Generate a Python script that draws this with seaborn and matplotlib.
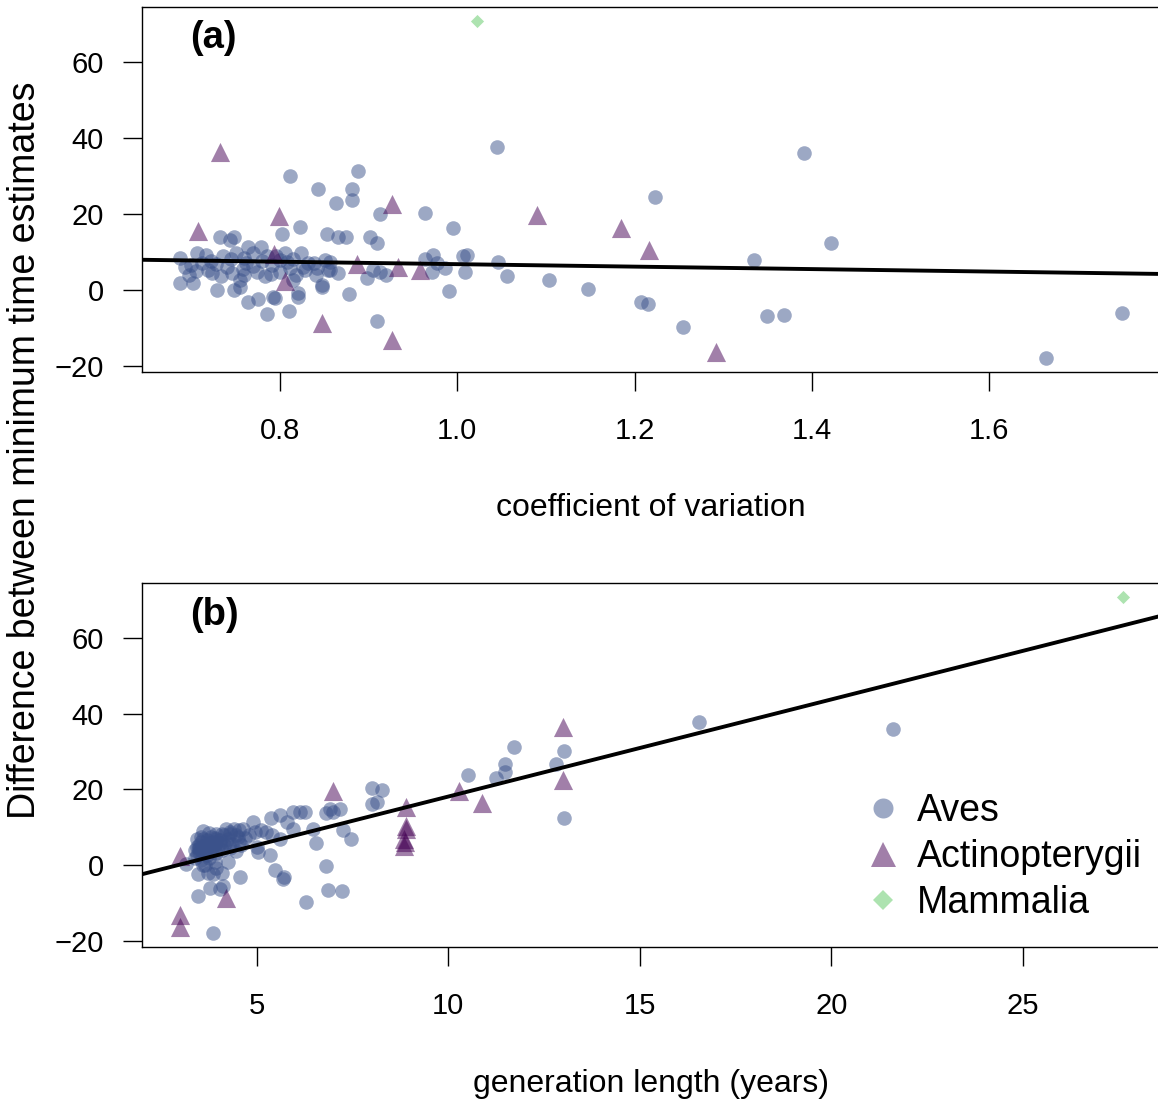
import pandas as pd
import matplotlib.pyplot as plt
from matplotlib.lines import Line2D
import seaborn as sns

# difference between minimum time estimates, per species
aves_diff = [37.7, 36.0, 31.3, 30.1, 26.7, 26.7, 24.6, 23.7, 22.9, 20.3,
             19.9, 16.6, 16.2, 14.7, 14.7, 14.0, 13.9, 13.9, 13.9, 13.8,
             13.2, 12.3, 12.3, 11.4, 11.4, 9.6, 9.6, 9.6, 9.6, 9.6,
             9.2, 9.2, 9.2, 8.8, 8.8, 8.8, 8.3, 8.1, 7.9, 7.9,
             7.4, 7.2, 7.0, 7.0, 7.0, 7.0, 7.0, 6.6, 6.1, 5.7,
             5.7, 5.3, 5.3, 5.3, 5.3, 5.3, 4.8, 4.8, 4.8, 4.8,
             4.8, 4.4, 4.4, 3.9, 3.9, 3.9, 3.5, 3.5, 3.5, 3.1,
             2.6, 2.6, 2.6, 1.9, 1.8, 1.3, 0.7, 0.7, 0.2, 0.0,
             0.0, -0.3, -0.9, -1.2, -2.0, -2.3, -2.0, -2.4, -3.1, -3.3,
             -3.7, -5.5, -6.1, -6.3, -6.6, -6.8, -8.3, -9.9, -18.1, 6.5,
             7.5, 6.0, 5.5, 7.5, 7.8, 4.0, 5.8, 8.5, 6.2, 4.2,
             8.0, 6.8, 5.0, 7.2, 3.8, 9.0, 6.0, 4.5, 8.2]
aves_cv = [1.045, 1.391, 0.888, 0.811, 0.843, 0.881, 1.223, 0.881, 0.863, 0.964,
           0.913, 0.823, 0.995, 0.802, 0.853, 0.874, 0.865, 0.902, 0.733, 0.748,
           0.744, 0.910, 1.421, 0.764, 0.779, 0.706, 0.751, 0.770, 0.806, 0.824,
           0.717, 0.973, 1.011, 0.736, 0.796, 1.007, 0.687, 0.964, 0.851, 1.335,
           0.856, 1.046, 0.712, 0.762, 0.832, 0.838, 0.977, 0.791, 0.693, 0.811,
           0.986, 0.719, 0.828, 0.854, 0.856, 0.905, 0.774, 0.800, 0.913, 0.971,
           1.009, 0.723, 0.746, 0.698, 0.841, 0.920, 0.734, 0.783, 1.056, 0.898,
           0.755, 0.815, 1.104, 0.687, 0.702, 0.847, 0.847, 0.755, 1.147, 0.729,
           0.748, 0.991, 0.820, 0.878, 0.792, 0.795, 0.820, 0.775, 1.207, 0.764,
           1.215, 0.810, 1.750, 0.785, 1.368, 1.349, 0.909, 1.254, 1.664, 0.700,
           0.722, 0.740, 0.758, 0.780, 0.800, 0.818, 0.842, 0.760, 0.770, 0.790,
           0.815, 0.728, 0.705, 0.808, 0.760, 0.785, 0.826, 0.865, 0.745]
aves_gen = [16.54, 21.62, 11.71, 13.01, 11.49, 12.82, 11.49, 10.51, 11.24, 8.02,
            8.26, 8.13, 8.02, 6.91, 7.17, 6.99, 6.12, 6.25, 5.95, 6.82,
            5.60, 13.01, 5.38, 5.80, 4.90, 5.95, 4.64, 4.40, 6.47, 4.20,
            7.26, 5.10, 4.55, 4.95, 4.30, 5.25, 4.10, 3.95, 5.40, 4.45,
            3.80, 4.70, 7.47, 3.60, 4.25, 3.95, 5.60, 4.05, 3.55, 6.56,
            3.75, 4.15, 3.50, 3.90, 4.60, 3.65, 3.45, 4.00, 3.70, 5.00,
            3.85, 3.55, 4.30, 3.40, 3.80, 4.10, 3.60, 5.03, 3.50, 3.95,
            3.45, 5.34, 3.70, 3.40, 3.75, 3.55, 4.25, 3.90, 3.15, 3.65,
            3.60, 6.82, 3.95, 5.47, 3.73, 3.47, 4.10, 3.86, 4.56, 5.71,
            5.69, 4.12, 3.77, 4.03, 6.86, 7.24, 3.47, 6.28, 3.86, 3.70,
            4.50, 3.85, 4.35, 3.55, 4.80, 3.65, 4.05, 3.75, 4.20, 3.50,
            4.15, 3.45, 3.80, 3.90, 4.45, 3.60, 4.55, 3.50, 4.30]

fish_diff = [36.4, 22.6, 19.5, 19.7, 16.4, 15.4, 10.4, 9.5, 6.9, 6.0, 5.1, 2.3, -8.7, -13.3, -16.3]
fish_cv = [0.732, 0.926, 0.799, 1.090, 1.185, 0.708, 1.216, 0.793, 0.887, 0.933, 0.958, 0.806, 0.848, 0.926, 1.292]
fish_gen = [13.0, 13.0, 6.98, 10.28, 10.89, 8.89, 8.89, 8.89, 8.85, 8.87, 8.85, 2.99, 4.19, 2.99, 2.99]

mam_diff = [71.0]
mam_cv = [1.022]
mam_gen = [27.6]

# fitted lines (intercept, slope)
fit_cv = (10.0, -3.25)
fit_gen = (-7.6, 2.57)

classes = ['Aves', 'Actinopterygii', 'Mammalia']
colors = {'Aves': '#3B528B', 'Actinopterygii': '#440154', 'Mammalia': '#5DC863'}
markers = {'Aves': 'o', 'Actinopterygii': '^', 'Mammalia': 'D'}
sizes = {'Aves': 110, 'Actinopterygii': 190, 'Mammalia': 45}

df = pd.concat([
    pd.DataFrame({'diff': aves_diff, 'cv': aves_cv, 'gen': aves_gen, 'cls': 'Aves'}),
    pd.DataFrame({'diff': fish_diff, 'cv': fish_cv, 'gen': fish_gen, 'cls': 'Actinopterygii'}),
    pd.DataFrame({'diff': mam_diff, 'cv': mam_cv, 'gen': mam_gen, 'cls': 'Mammalia'}),
], ignore_index=True)

sns.set_theme(style='white')
plt.rcParams['font.family'] = ['Liberation Sans', 'DejaVu Sans']
plt.rcParams['text.color'] = 'black'
plt.rcParams['axes.labelcolor'] = 'black'

fig = plt.figure(figsize=(11.58, 11.03), dpi=100)
ax1 = fig.add_axes([0.1226, 0.66274, 0.8792, 0.33091])
ax2 = fig.add_axes([0.1226, 0.14143, 0.8792, 0.33001])

for ax, xcol, fit in [(ax1, 'cv', fit_cv), (ax2, 'gen', fit_gen)]:
    for c in classes:
        sub = df[df['cls'] == c]
        sns.scatterplot(data=sub, x=xcol, y='diff', marker=markers[c], s=sizes[c],
                        color=colors[c], alpha=0.5, linewidth=0, ax=ax)
    ax.axline((0, fit[0]), slope=fit[1], color='black', lw=2.8)
    ax.set_ylim(-21.7, 74.6)
    ax.set_yticks([-20, 0, 20, 40, 60])
    ax.set_ylabel('')
    ax.spines['right'].set_visible(False)
    for s in ['left', 'bottom', 'top']:
        ax.spines[s].set_linewidth(1.0)
        ax.spines[s].set_color('black')
    ax.tick_params(axis='both', direction='out', length=13.5, width=1.0,
                   labelsize=21, colors='black', left=True, bottom=True)
    ax.tick_params(axis='x', pad=19)
    ax.tick_params(axis='y', pad=14)

ax1.set_xlim(0.6445, 1.7925)
ax1.set_xticks([0.8, 1.0, 1.2, 1.4, 1.6])
ax1.set_xlabel('coefficient of variation', fontsize=23)
ax1.xaxis.set_label_coords(0.5, -0.3726)
ax1.xaxis.label.set_va('center')

ax2.set_xlim(2.006, 28.58)
ax2.set_xticks([5, 10, 15, 20, 25])
ax2.set_xlabel('generation length (years)', fontsize=23)
ax2.xaxis.set_label_coords(0.5, -0.3757)
ax2.xaxis.label.set_va('center')

fig.text(190 / 1158, 1 - 38 / 1103, '(a)', fontsize=27.5, fontweight='bold', ha='left', va='center')
fig.text(190 / 1158, 1 - 615 / 1103, '(b)', fontsize=27.5, fontweight='bold', ha='left', va='center')
fig.text(25 / 1158, 0.592, 'Difference between minimum time estimates', fontsize=27,
         rotation=90, ha='center', va='center')

handles = [Line2D([], [], ls='', marker='o', markersize=14.4, color=colors['Aves'], alpha=0.5, markeredgewidth=0),
           Line2D([], [], ls='', marker='^', markersize=18, color=colors['Actinopterygii'], alpha=0.5, markeredgewidth=0),
           Line2D([], [], ls='', marker='D', markersize=10, color=colors['Mammalia'], alpha=0.5, markeredgewidth=0)]
fs_leg = 27
ax2.legend(handles, classes, loc='center left', bbox_to_anchor=(864.0 / 1158, 0.223),
           bbox_transform=fig.transFigure, frameon=False, fontsize=fs_leg,
           handlelength=1.0, handletextpad=0.42, labelspacing=0.27,
           borderpad=0, borderaxespad=0)

fig.savefig('out.png', dpi=100)
